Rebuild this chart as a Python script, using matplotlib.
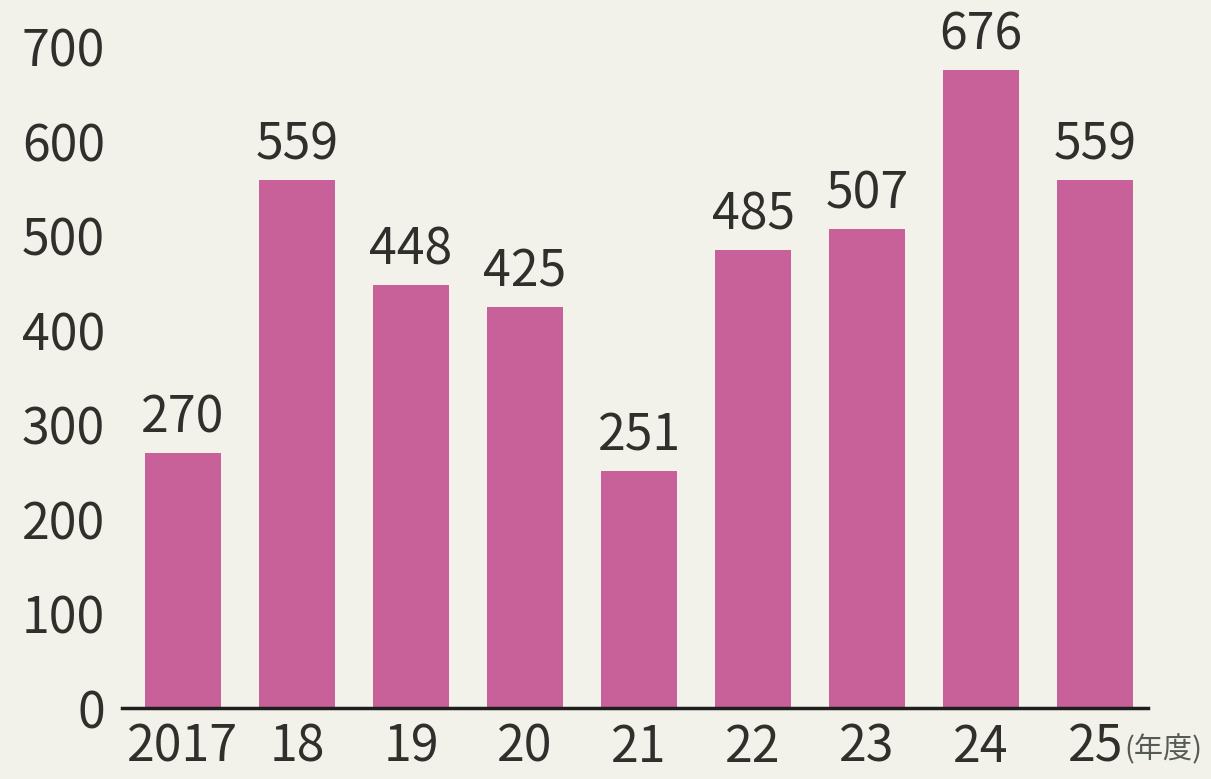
import matplotlib

matplotlib.use("Agg")
import matplotlib.pyplot as plt

plt.rcParams["font.family"] = ["Noto Sans CJK JP", "DejaVu Sans"]

years = ["2017", "18", "19", "20", "21", "22", "23", "24", "25"]
values = [270, 559, 448, 425, 251, 485, 507, 676, 559]
yticks = [0, 100, 200, 300, 400, 500, 600, 700]

bg = "#f2f1ea"
bar_color = "#c8619a"
text_color = "#2f302c"

fig = plt.figure(figsize=(12.11, 7.79), dpi=100, facecolor=bg)
ax = fig.add_axes([0.1007, 0.0911, 0.847, 0.8486], facecolor=bg)

x = list(range(len(years)))
bars = ax.bar(x, values, width=0.67, color=bar_color, zorder=2)

for bar, v in zip(bars, values):
    ax.annotate(
        f"{v}",
        (bar.get_x() + bar.get_width() / 2, v),
        xytext=(0, 6),
        textcoords="offset points",
        ha="center",
        va="bottom",
        fontsize=36,
        color=text_color,
        annotation_clip=False,
    )

ax.set_xlim(-0.535, 8.46)
ax.set_ylim(0, 700)
ax.set_yticks(yticks)
ax.set_yticklabels([str(t) for t in yticks])
ax.set_xticks(x)
ax.set_xticklabels(years)
ax.tick_params(axis="y", length=0, pad=12, labelsize=36, labelcolor=text_color)
ax.tick_params(axis="x", length=0, pad=10, labelsize=36, labelcolor=text_color)

for side in ["left", "right", "top"]:
    ax.spines[side].set_visible(False)
ax.spines["bottom"].set_color("#1e1e1e")
ax.spines["bottom"].set_linewidth(2.5)

fig.text(1124 / 1211, 1 - 750 / 779, "(年度)", ha="left", va="center",
         fontsize=21, color="#555a55")

fig.savefig("out.png", dpi=100, facecolor=bg)
plt.close(fig)
